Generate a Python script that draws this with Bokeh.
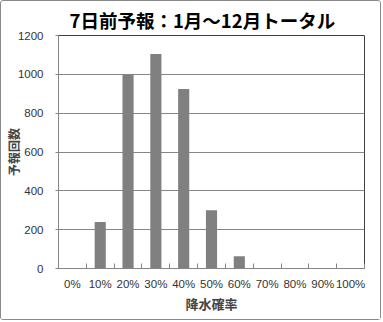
from bokeh.plotting import figure
from bokeh.models import FixedTicker, Range1d
from bokeh.embed import file_html
from bokeh.resources import INLINE

categories = ["0%", "10%", "20%", "30%", "40%", "50%", "60%", "70%", "80%", "90%", "100%"]
counts = [0, 240, 1000, 1105, 925, 300, 63, 0, 0, 0, 0]
y_ticks = [0, 200, 400, 600, 800, 1000, 1200]
title_text = "7日前予報：1月～12月トータル"
y_label = "予報回数"
x_label = "降水確率"

FONT = "Noto Sans CJK JP"

n = len(categories)
centers = [i + 0.5 for i in range(n)]

p = figure(width=381, height=320, output_backend="svg", toolbar_location=None,
           x_range=Range1d(0, n), y_range=Range1d(0, 1200),
           min_border_left=57, min_border_right=18, min_border_top=34, min_border_bottom=53)
p.styles = {"border": "1px solid #8a8a8a", "border-radius": "3px"}

p.vbar(x=centers, top=counts, width=0.4, color="#808080", line_color=None)

p.title.text = title_text
p.title.text_font = FONT
p.title.text_font_size = "18.5px"
p.title.text_font_style = "bold"
p.title.align = "left"
p.title.offset = 11
p.title.standoff = 6
p.title.text_color = "#000000"

p.outline_line_color = "#404040"
p.outline_line_width = 1

# y axis
p.yaxis.ticker = FixedTicker(ticks=y_ticks)
p.yaxis.axis_line_color = "#868686"
p.yaxis.major_tick_line_color = "#868686"
p.yaxis.major_tick_out = 3
p.yaxis.major_tick_in = 0
p.yaxis.minor_tick_line_color = None
p.yaxis.major_label_standoff = 12
p.yaxis.major_label_text_font = "Liberation Sans"
p.yaxis.major_label_text_font_size = "11.5px"
p.yaxis.major_label_text_color = "#333333"
p.yaxis.axis_label = y_label
p.yaxis.axis_label_text_font = FONT
p.yaxis.axis_label_text_font_size = "12px"
p.yaxis.axis_label_text_font_style = "bold"
p.yaxis.axis_label_standoff = -7

# x axis
p.xaxis.ticker = FixedTicker(ticks=centers, minor_ticks=list(range(n + 1)))
p.xaxis.major_label_overrides = {c: lab for c, lab in zip(centers, categories)}
p.xaxis.axis_line_color = "#868686"
p.xaxis.major_tick_line_color = None
p.xaxis.minor_tick_line_color = "#868686"
p.xaxis.minor_tick_in = 5
p.xaxis.minor_tick_out = 0
p.xaxis.major_label_standoff = 3
p.xaxis.major_label_text_font = "Liberation Sans"
p.xaxis.major_label_text_font_size = "11.5px"
p.xaxis.major_label_text_color = "#333333"
p.xaxis.axis_label = x_label
p.xaxis.axis_label_text_font = FONT
p.xaxis.axis_label_text_font_size = "13px"
p.xaxis.axis_label_text_font_style = "bold"
p.xaxis.axis_label_standoff = 1

p.xgrid.grid_line_color = None
p.ygrid.grid_line_color = "#868686"
p.ygrid.grid_line_width = 1

open("out.html", "w").write(file_html(p, INLINE))
